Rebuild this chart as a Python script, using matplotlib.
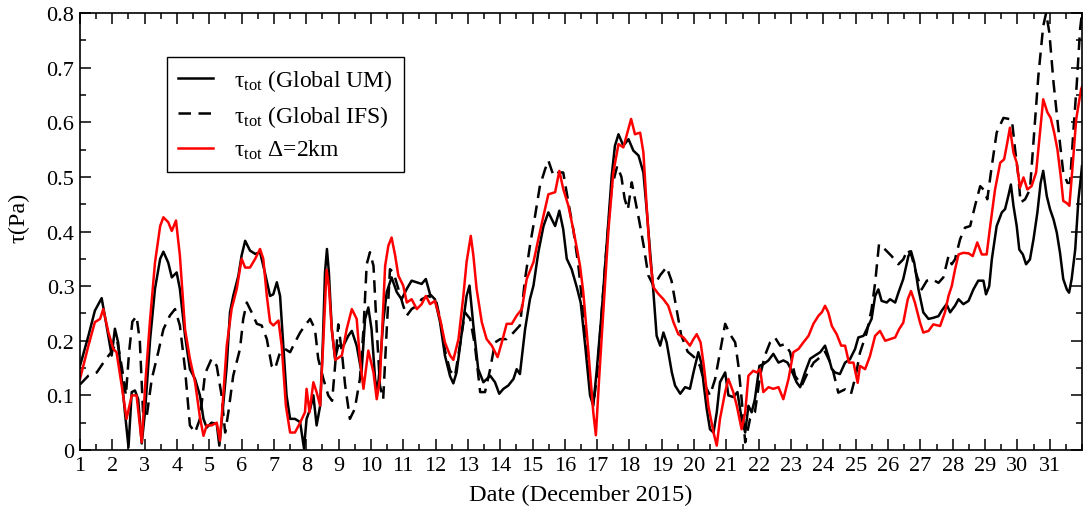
import matplotlib
matplotlib.use("Agg")
import matplotlib.pyplot as plt
from matplotlib.ticker import MultipleLocator, FuncFormatter

plt.rcParams['font.family'] = ['Liberation Serif', 'DejaVu Serif']
plt.rcParams['mathtext.fontset'] = 'custom'
plt.rcParams['mathtext.rm'] = 'Liberation Serif'
plt.rcParams['mathtext.it'] = 'Liberation Serif:italic'

# --- data (day of December 2015, stress in Pa) --- #

um_day = [1.0, 1.26, 1.46, 1.67, 1.82, 1.98, 2.08, 2.18, 2.29, 2.39, 2.5, 2.6, 2.7, 2.8, 2.91, 3.01,
          3.17, 3.32, 3.48, 3.58, 3.73, 3.84, 3.99, 4.09, 4.25, 4.4, 4.56, 4.71, 4.82, 4.92, 5.07, 5.23,
          5.31, 5.41, 5.54, 5.64, 5.74, 5.9, 6.0, 6.11, 6.26, 6.42, 6.57, 6.72, 6.88, 6.98, 7.09, 7.19,
          7.29, 7.39, 7.5, 7.65, 7.81, 7.93, 8.01, 8.12, 8.22, 8.32, 8.43, 8.51, 8.58, 8.64, 8.7, 8.79,
          8.89, 8.99, 9.15, 9.3, 9.41, 9.56, 9.71, 9.82, 9.92, 10.02, 10.13, 10.2, 10.28, 10.38, 10.49,
          10.64, 10.8, 10.95, 11.11, 11.26, 11.42, 11.57, 11.7, 11.83, 11.98, 12.14, 12.29, 12.45, 12.55,
          12.65, 12.81, 12.96, 13.05, 13.17, 13.32, 13.48, 13.69, 13.84, 13.97, 14.1, 14.25, 14.41, 14.51,
          14.61, 14.77, 14.92, 15.03, 15.18, 15.34, 15.49, 15.59, 15.7, 15.83, 15.95, 16.06, 16.21, 16.37,
          16.49, 16.63, 16.78, 16.88, 16.99, 17.14, 17.3, 17.45, 17.55, 17.66, 17.81, 17.97, 18.12, 18.28,
          18.43, 18.53, 18.64, 18.74, 18.84, 18.95, 19.05, 19.15, 19.31, 19.41, 19.57, 19.72, 19.87, 19.98,
          20.13, 20.22, 20.3, 20.39, 20.49, 20.6, 20.7, 20.8, 20.96, 21.06, 21.21, 21.34, 21.47, 21.58,
          21.68, 21.78, 21.88, 22.02, 22.14, 22.3, 22.45, 22.61, 22.76, 22.89, 23.02, 23.17, 23.28, 23.43,
          23.59, 23.74, 23.9, 24.05, 24.15, 24.26, 24.36, 24.51, 24.67, 24.82, 24.98, 25.08, 25.24, 25.34,
          25.49, 25.6, 25.7, 25.8, 25.96, 26.06, 26.22, 26.32, 26.47, 26.63, 26.71, 26.81, 26.94, 27.09,
          27.25, 27.4, 27.56, 27.66, 27.81, 27.92, 28.07, 28.18, 28.33, 28.49, 28.64, 28.79, 28.95, 29.03,
          29.13, 29.21, 29.36, 29.52, 29.62, 29.72, 29.8, 29.88, 29.98, 30.06, 30.17, 30.27, 30.39, 30.5,
          30.62, 30.72, 30.8, 30.91, 31.01, 31.12, 31.22, 31.32, 31.42, 31.53, 31.6, 31.68, 31.79, 31.89,
          31.97, 32.0]
um_tau = [0.154, 0.209, 0.255, 0.278, 0.228, 0.173, 0.222, 0.197, 0.13, 0.069, 0.005, 0.106, 0.109, 0.093,
          0.012, 0.069, 0.203, 0.295, 0.35, 0.363, 0.343, 0.316, 0.325, 0.295, 0.209, 0.148, 0.13, 0.1,
          0.057, 0.041, 0.05, 0.048, 0.008, 0.069, 0.154, 0.252, 0.282, 0.319, 0.356, 0.383, 0.365, 0.359,
          0.362, 0.325, 0.282, 0.285, 0.307, 0.282, 0.191, 0.1, 0.057, 0.057, 0.051, 0.003, 0.057, 0.075,
          0.1, 0.045, 0.081, 0.191, 0.325, 0.368, 0.325, 0.221, 0.167, 0.191, 0.191, 0.209, 0.218, 0.191,
          0.142, 0.24, 0.261, 0.221, 0.13, 0.106, 0.154, 0.234, 0.289, 0.316, 0.289, 0.276, 0.295, 0.31,
          0.307, 0.304, 0.313, 0.285, 0.276, 0.234, 0.173, 0.135, 0.122, 0.142, 0.215, 0.282, 0.301, 0.228,
          0.148, 0.124, 0.136, 0.124, 0.103, 0.112, 0.118, 0.13, 0.148, 0.139, 0.221, 0.276, 0.301, 0.362,
          0.41, 0.435, 0.423, 0.41, 0.438, 0.404, 0.35, 0.331, 0.298, 0.27, 0.191, 0.1, 0.081, 0.148, 0.252,
          0.38, 0.502, 0.557, 0.578, 0.557, 0.569, 0.548, 0.539, 0.508, 0.441, 0.362, 0.289, 0.209, 0.191,
          0.215, 0.197, 0.142, 0.118, 0.103, 0.115, 0.112, 0.142, 0.179, 0.16, 0.118, 0.075, 0.038, 0.032,
          0.069, 0.124, 0.142, 0.1, 0.097, 0.106, 0.057, 0.032, 0.081, 0.069, 0.093, 0.154, 0.157, 0.164,
          0.176, 0.16, 0.164, 0.16, 0.145, 0.124, 0.115, 0.142, 0.167, 0.173, 0.179, 0.191, 0.172, 0.148,
          0.142, 0.139, 0.16, 0.166, 0.185, 0.206, 0.209, 0.221, 0.24, 0.282, 0.294, 0.273, 0.27, 0.276,
          0.27, 0.288, 0.313, 0.355, 0.364, 0.343, 0.294, 0.252, 0.24, 0.242, 0.245, 0.255, 0.267, 0.252,
          0.264, 0.276, 0.267, 0.273, 0.294, 0.31, 0.31, 0.285, 0.3, 0.349, 0.41, 0.435, 0.441, 0.465, 0.486,
          0.447, 0.41, 0.367, 0.358, 0.34, 0.349, 0.386, 0.435, 0.489, 0.511, 0.465, 0.441, 0.422, 0.398,
          0.361, 0.313, 0.294, 0.288, 0.313, 0.367, 0.459, 0.502, 0.52]

ifs_day = [1.0, 1.26, 1.52, 1.77, 1.98, 2.15, 2.3, 2.42, 2.52, 2.62, 2.75, 2.85, 2.95, 3.06, 3.22, 3.42,
           3.58, 3.78, 3.94, 4.09, 4.25, 4.4, 4.56, 4.71, 4.87, 5.07, 5.23, 5.38, 5.49, 5.59, 5.74, 5.95,
           6.05, 6.16, 6.31, 6.47, 6.62, 6.78, 6.93, 7.03, 7.19, 7.34, 7.5, 7.65, 7.81, 7.96, 8.12, 8.27,
           8.37, 8.53, 8.68, 8.8, 8.9, 8.99, 9.1, 9.2, 9.35, 9.5, 9.66, 9.77, 9.87, 9.97, 10.08, 10.18,
           10.28, 10.38, 10.49, 10.59, 10.7, 10.85, 11.0, 11.11, 11.26, 11.42, 11.57, 11.78, 11.88, 12.03,
           12.14, 12.3, 12.45, 12.6, 12.75, 12.91, 13.07, 13.22, 13.38, 13.53, 13.69, 13.84, 14.0, 14.2,
           14.41, 14.61, 14.77, 14.92, 15.08, 15.23, 15.39, 15.49, 15.65, 15.8, 15.95, 16.11, 16.26, 16.42,
           16.57, 16.7, 16.8, 16.9, 17.0, 17.15, 17.3, 17.45, 17.62, 17.75, 17.85, 17.95, 18.07, 18.17,
           18.3, 18.45, 18.58, 18.75, 18.95, 19.15, 19.3, 19.45, 19.6, 19.8, 20.0, 20.18, 20.34, 20.49,
           20.65, 20.8, 20.96, 21.11, 21.27, 21.37, 21.47, 21.58, 21.73, 21.88, 22.04, 22.19, 22.35, 22.5,
           22.66, 22.81, 22.97, 23.12, 23.33, 23.5, 23.7, 23.9, 24.05, 24.26, 24.46, 24.67, 24.85, 25.0,
           25.13, 25.34, 25.49, 25.6, 25.72, 25.91, 26.11, 26.32, 26.47, 26.61, 26.73, 26.89, 27.04, 27.2,
           27.35, 27.56, 27.71, 27.87, 27.97, 28.07, 28.23, 28.38, 28.54, 28.69, 28.85, 28.95, 29.07, 29.21,
           29.36, 29.57, 29.83, 29.93, 30.03, 30.1, 30.24, 30.39, 30.52, 30.65, 30.8, 30.89, 30.99, 31.12,
           31.27, 31.42, 31.55, 31.63, 31.73, 31.84, 31.94, 32.0]
ifs_tau = [0.12, 0.136, 0.142, 0.164, 0.18, 0.2, 0.15, 0.1, 0.18, 0.235, 0.245, 0.2, 0.07, 0.06, 0.13,
           0.179, 0.221, 0.246, 0.258, 0.228, 0.148, 0.045, 0.032, 0.057, 0.14, 0.167, 0.154, 0.1, 0.032,
           0.069, 0.136, 0.185, 0.24, 0.27, 0.252, 0.231, 0.228, 0.203, 0.154, 0.148, 0.179, 0.185, 0.179,
           0.197, 0.215, 0.228, 0.24, 0.221, 0.167, 0.13, 0.1, 0.09, 0.16, 0.23, 0.18, 0.12, 0.057, 0.075,
           0.13, 0.22, 0.34, 0.362, 0.337, 0.221, 0.118, 0.093, 0.221, 0.331, 0.325, 0.295, 0.264, 0.246,
           0.258, 0.264, 0.276, 0.282, 0.279, 0.27, 0.24, 0.18, 0.145, 0.135, 0.19, 0.252, 0.24, 0.191,
           0.106, 0.106, 0.148, 0.197, 0.203, 0.203, 0.215, 0.228, 0.313, 0.374, 0.429, 0.484, 0.514, 0.53,
           0.502, 0.508, 0.508, 0.453, 0.404, 0.337, 0.252, 0.17, 0.11, 0.09, 0.14, 0.26, 0.38, 0.48, 0.52,
           0.5, 0.46, 0.44, 0.49, 0.46, 0.42, 0.37, 0.32, 0.3, 0.32, 0.335, 0.31, 0.26, 0.21, 0.18, 0.17,
           0.154, 0.118, 0.1, 0.13, 0.179, 0.231, 0.212, 0.197, 0.154, 0.093, 0.014, 0.057, 0.069, 0.136,
           0.173, 0.197, 0.206, 0.191, 0.194, 0.179, 0.136, 0.118, 0.14, 0.16, 0.17, 0.18, 0.154, 0.105,
           0.111, 0.102, 0.136, 0.178, 0.215, 0.258, 0.306, 0.377, 0.367, 0.355, 0.34, 0.349, 0.367, 0.355,
           0.319, 0.294, 0.31, 0.313, 0.306, 0.316, 0.355, 0.34, 0.349, 0.386, 0.407, 0.41, 0.447, 0.483,
           0.477, 0.459, 0.52, 0.581, 0.608, 0.605, 0.55, 0.502, 0.453, 0.459, 0.477, 0.581, 0.685, 0.776,
           0.8, 0.764, 0.672, 0.587, 0.508, 0.489, 0.489, 0.581, 0.672, 0.77, 0.8]

km2_day = [1.0, 1.26, 1.46, 1.62, 1.72, 1.88, 2.03, 2.13, 2.29, 2.44, 2.6, 2.75, 2.91, 3.03, 3.17, 3.32,
           3.48, 3.58, 3.73, 3.84, 3.97, 4.09, 4.25, 4.4, 4.56, 4.71, 4.82, 4.92, 5.07, 5.23, 5.33, 5.44,
           5.54, 5.69, 5.85, 6.0, 6.11, 6.26, 6.42, 6.57, 6.67, 6.78, 6.88, 6.98, 7.14, 7.24, 7.37, 7.5,
           7.65, 7.81, 7.96, 8.01, 8.1, 8.22, 8.32, 8.43, 8.53, 8.63, 8.7, 8.79, 8.9, 9.1, 9.25, 9.41,
           9.56, 9.66, 9.77, 9.92, 10.08, 10.18, 10.28, 10.44, 10.54, 10.64, 10.75, 10.85, 11.0, 11.11,
           11.26, 11.42, 11.57, 11.7, 11.83, 11.98, 12.14, 12.29, 12.45, 12.55, 12.71, 12.86, 12.96, 13.09,
           13.17, 13.27, 13.43, 13.58, 13.74, 13.92, 14.05, 14.2, 14.36, 14.51, 14.67, 14.82, 15.03, 15.18,
           15.34, 15.49, 15.7, 15.83, 15.95, 16.11, 16.26, 16.37, 16.47, 16.57, 16.73, 16.88, 16.96, 17.06,
           17.19, 17.35, 17.5, 17.66, 17.81, 17.95, 18.05, 18.17, 18.33, 18.43, 18.53, 18.64, 18.74, 18.89,
           19.05, 19.2, 19.36, 19.51, 19.67, 19.87, 19.98, 20.08, 20.2, 20.3, 20.44, 20.6, 20.7, 20.8,
           20.96, 21.06, 21.21, 21.32, 21.47, 21.58, 21.68, 21.83, 21.94, 22.04, 22.14, 22.3, 22.45, 22.61,
           22.76, 22.92, 23.07, 23.23, 23.38, 23.54, 23.69, 23.85, 23.95, 24.05, 24.15, 24.26, 24.41, 24.55,
           24.67, 24.79, 24.93, 25.06, 25.13, 25.29, 25.44, 25.6, 25.75, 25.91, 26.06, 26.22, 26.34, 26.47,
           26.61, 26.71, 26.83, 26.99, 27.09, 27.25, 27.4, 27.61, 27.76, 27.87, 27.97, 28.07, 28.18, 28.33,
           28.49, 28.62, 28.76, 28.9, 29.05, 29.16, 29.31, 29.47, 29.59, 29.69, 29.77, 29.88, 29.98, 30.08,
           30.19, 30.31, 30.44, 30.58, 30.68, 30.8, 30.93, 31.03, 31.14, 31.24, 31.34, 31.42, 31.53, 31.61,
           31.71, 31.82, 31.97, 32.0]
km2_tau = [0.13, 0.191, 0.234, 0.24, 0.258, 0.215, 0.185, 0.179, 0.118, 0.057, 0.1, 0.1, 0.014, 0.13, 0.24,
           0.343, 0.41, 0.426, 0.417, 0.401, 0.42, 0.356, 0.221, 0.167, 0.124, 0.06, 0.026, 0.045, 0.045,
           0.05, 0.017, 0.106, 0.191, 0.258, 0.295, 0.35, 0.334, 0.334, 0.35, 0.368, 0.35, 0.282, 0.234,
           0.228, 0.237, 0.191, 0.081, 0.032, 0.032, 0.05, 0.069, 0.112, 0.069, 0.124, 0.106, 0.081, 0.203,
           0.33, 0.3, 0.22, 0.165, 0.173, 0.221, 0.258, 0.24, 0.167, 0.112, 0.182, 0.142, 0.093, 0.13,
           0.337, 0.374, 0.389, 0.356, 0.319, 0.301, 0.27, 0.276, 0.258, 0.267, 0.282, 0.267, 0.273, 0.24,
           0.197, 0.173, 0.165, 0.203, 0.282, 0.344, 0.392, 0.356, 0.295, 0.234, 0.203, 0.191, 0.17, 0.197,
           0.231, 0.231, 0.246, 0.258, 0.313, 0.344, 0.386, 0.429, 0.468, 0.472, 0.511, 0.478, 0.447, 0.404,
           0.37, 0.337, 0.289, 0.179, 0.069, 0.027, 0.13, 0.252, 0.404, 0.508, 0.56, 0.554, 0.584, 0.606,
           0.578, 0.581, 0.545, 0.447, 0.35, 0.298, 0.286, 0.276, 0.264, 0.234, 0.212, 0.206, 0.191, 0.203,
           0.212, 0.197, 0.154, 0.081, 0.032, 0.008, 0.057, 0.106, 0.13, 0.106, 0.081, 0.038, 0.069, 0.136,
           0.145, 0.142, 0.148, 0.106, 0.115, 0.112, 0.115, 0.093, 0.13, 0.179, 0.185, 0.197, 0.209, 0.231,
           0.246, 0.252, 0.264, 0.252, 0.227, 0.212, 0.191, 0.191, 0.16, 0.16, 0.123, 0.154, 0.148, 0.172,
           0.209, 0.218, 0.2, 0.203, 0.206, 0.221, 0.233, 0.276, 0.291, 0.27, 0.233, 0.215, 0.218, 0.23,
           0.227, 0.252, 0.282, 0.3, 0.33, 0.358, 0.361, 0.36, 0.355, 0.38, 0.358, 0.358, 0.41, 0.477, 0.526,
           0.532, 0.563, 0.59, 0.544, 0.526, 0.48, 0.499, 0.477, 0.483, 0.508, 0.569, 0.642, 0.618, 0.608,
           0.581, 0.55, 0.502, 0.456, 0.452, 0.447, 0.52, 0.605, 0.66, 0.665]

labels = [r'τ$_{\rm tot}$ (Global UM)', r'τ$_{\rm tot}$ (Global IFS)', r'τ$_{\rm tot}$ Δ=2km']

# --- plot --- #

fig = plt.figure(figsize=(10.88, 5.10), dpi=100)
ax = fig.add_axes([80/1088, 59/510, 1002/1088, 437/510])

ax.plot(um_day, um_tau, color='black', lw=1.8, label=labels[0])
ax.plot(ifs_day, ifs_tau, color='black', lw=1.8, dashes=(5, 3), label=labels[1])
ax.plot(km2_day, km2_tau, color='#ff0000', lw=1.8, label=labels[2])

ax.set_xlim(1, 32)
ax.set_ylim(0, 0.8)
ax.set_xticks(range(1, 32))
ax.xaxis.set_minor_locator(MultipleLocator(0.5))
ax.yaxis.set_major_locator(MultipleLocator(0.1))
ax.yaxis.set_minor_locator(MultipleLocator(0.05))
ax.yaxis.set_major_formatter(FuncFormatter(lambda v, p: '0' if abs(v) < 1e-9 else '%.1f' % v))
ax.tick_params(which='both', direction='in', top=True, right=True, labelsize=16, width=1.1)
ax.tick_params(which='major', length=8, pad=4)
ax.tick_params(which='minor', length=4)
for s in ax.spines.values():
    s.set_linewidth(1.2)

ax.set_xlabel('Date (December 2015)', fontsize=17.5, labelpad=7)
ax.set_ylabel('τ(Pa)', fontsize=17.5)
ax.yaxis.set_label_coords(-0.05, 0.533)

leg = ax.legend(loc='upper left', bbox_to_anchor=(0.087, 0.9), borderaxespad=0, fontsize=17,
                fancybox=False, edgecolor='black', framealpha=1, handlelength=1.5,
                labelspacing=0.4, borderpad=0.45, handletextpad=0.9)
leg.get_frame().set_linewidth(1.0)

fig.savefig('out.png', dpi=100)
